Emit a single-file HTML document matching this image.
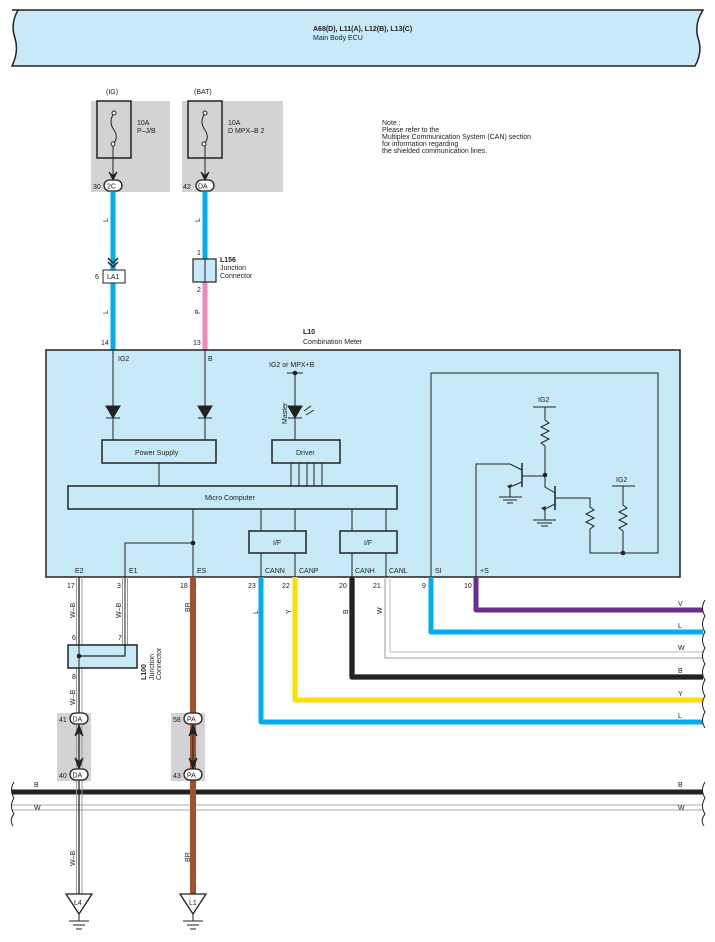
<!DOCTYPE html>
<html><head><meta charset="utf-8"><style>
html,body{margin:0;padding:0;background:#fff}
svg{display:block}
text{font-family:"Liberation Sans",sans-serif;font-size:7px;fill:#222}
.b{font-weight:bold}
</style></head><body>
<svg width="715" height="942" viewBox="0 0 715 942" xmlns="http://www.w3.org/2000/svg">
<defs>
<g id="wb"><line x1="-2" y1="0" x2="-2" y2="1" stroke="#999" stroke-width="0.8"/></g>
</defs>
<!-- header -->
<path d="M12,10 L703,10 Q694,24 698,38 Q703,52 695,66 L12,66 Q19,52 15,38 Q10,24 18,10 Z" fill="#c8e9f8" stroke="#222" stroke-width="1.5"/>
<text x="313" y="31" class="b">A68(D), L11(A), L12(B), L13(C)</text>
<text x="313" y="40">Main Body ECU</text>

<!-- note -->
<text x="382" y="125">Note :</text>
<text x="382" y="132">Please refer to the</text>
<text x="382" y="139">Multiplex Communication System (CAN) section</text>
<text x="382" y="146">for information regarding</text>
<text x="382" y="153">the shielded communication lines.</text>

<!-- fuse boxes -->
<rect x="91" y="101" width="79" height="91" fill="#d3d3d5"/>
<rect x="182" y="101" width="101" height="91" fill="#d3d3d5"/>
<rect x="97" y="101" width="34" height="57" fill="none" stroke="#222" stroke-width="1.5"/>
<rect x="188" y="101" width="34" height="57" fill="none" stroke="#222" stroke-width="1.5"/>
<path d="M114,113 Q108,122 114,130 Q119,138 113,144" fill="none" stroke="#222"/>
<circle cx="114" cy="113" r="2" fill="#fff" stroke="#222"/><circle cx="113" cy="144" r="2" fill="#fff" stroke="#222"/>
<path d="M205,113 Q199,122 205,130 Q210,138 204,144" fill="none" stroke="#222"/>
<circle cx="205" cy="113" r="2" fill="#fff" stroke="#222"/><circle cx="204" cy="144" r="2" fill="#fff" stroke="#222"/>
<line x1="113" y1="146" x2="113" y2="176" stroke="#222"/><line x1="205" y1="146" x2="205" y2="176" stroke="#222"/>
<path d="M109,172 L113,180 L117,172 L113,176Z" fill="#222" stroke="#222"/>
<path d="M201,172 L205,180 L209,172 L205,176Z" fill="#222" stroke="#222"/>
<text x="137" y="125">10A</text><text x="137" y="133">P–J/B</text>
<text x="228" y="125">10A</text><text x="228" y="133">D MPX–B 2</text>
<text x="106" y="94">(IG)</text><text x="194" y="94">(BAT)</text>

<!-- IG wire -->
<line x1="113" y1="192" x2="113" y2="350" stroke="#00aeef" stroke-width="5"/>
<rect x="104" y="180" width="18" height="11" rx="5.5" fill="#fff" stroke="#222" stroke-width="1.3"/>
<text x="107" y="188.5">2C</text><text x="93" y="189">30</text>
<path d="M108,258 L113,263 L118,258 M108,262 L113,267 L118,262" fill="none" stroke="#222" stroke-width="1.5"/>
<rect x="103" y="270" width="22" height="13" fill="#fff" stroke="#222"/>
<text x="107" y="279">LA1</text><text x="95" y="279">6</text>
<text transform="translate(108,222) rotate(-90)">L</text>
<text transform="translate(108,314) rotate(-90)">L</text>
<text x="101" y="345">14</text>

<!-- BAT wire -->
<line x1="205" y1="192" x2="205" y2="260" stroke="#00aeef" stroke-width="5"/>
<line x1="205" y1="282" x2="205" y2="350" stroke="#f088b8" stroke-width="5"/>
<rect x="196" y="180" width="18" height="11" rx="5.5" fill="#fff" stroke="#222" stroke-width="1.3"/>
<text x="198" y="188.5">DA</text><text x="183" y="189">42</text>
<rect x="193" y="259" width="23" height="23" fill="#c8e9f8" stroke="#222" stroke-width="1.2"/>
<line x1="205" y1="259" x2="205" y2="282" stroke="#222"/>
<text x="197" y="255">1</text><text x="197" y="292">2</text>
<text x="220" y="262" class="b">L156</text><text x="220" y="270">Junction</text><text x="220" y="278">Connector</text>
<text transform="translate(200,222) rotate(-90)">L</text>
<text transform="translate(200,314) rotate(-90)">P</text>
<text x="193" y="345">13</text>
<text x="303" y="334" class="b">L10</text><text x="303" y="344">Combination Meter</text>

<!-- main box -->
<rect x="46" y="350" width="634" height="227" fill="#c8e9f8" stroke="#222" stroke-width="1.5"/>
<g stroke="#222" fill="none">
<line x1="113" y1="350" x2="113" y2="440"/><line x1="205" y1="350" x2="205" y2="440"/>
<line x1="295" y1="373" x2="295" y2="440"/>
<line x1="287" y1="373" x2="303" y2="373"/>
<line x1="159" y1="463" x2="159" y2="486"/>
<line x1="291" y1="463" x2="291" y2="486"/><line x1="299" y1="463" x2="299" y2="486"/><line x1="307" y1="463" x2="307" y2="486"/><line x1="314" y1="463" x2="314" y2="486"/><line x1="322" y1="463" x2="322" y2="486"/>
<line x1="193" y1="509" x2="193" y2="577"/>
<polyline points="193,543 125,543 125,577"/>
<line x1="261" y1="509" x2="261" y2="531"/><line x1="295" y1="509" x2="295" y2="531"/>
<line x1="261" y1="553" x2="261" y2="577"/><line x1="295" y1="553" x2="295" y2="577"/>
<line x1="352" y1="509" x2="352" y2="531"/><line x1="386" y1="509" x2="386" y2="531"/>
<line x1="352" y1="553" x2="352" y2="577"/><line x1="386" y1="553" x2="386" y2="577"/>
<polyline points="431,577 431,373 658,373 658,553 590,553 590,530"/>
<polyline points="476,577 476,464 510,464 522,470"/>
<line x1="533" y1="407" x2="556" y2="407"/>
<polyline points="545,407 545,420 549,423 541,427 549,431 541,435 549,439 541,443 545,446 545,487 555,493"/>
<line x1="522" y1="463" x2="522" y2="487" stroke-width="1.5"/>
<line x1="522" y1="476" x2="545" y2="476"/>
<polyline points="522,482 510,487 510,497"/>
<line x1="499" y1="497" x2="522" y2="497"/><line x1="503" y1="500" x2="517" y2="500"/><line x1="507" y1="503" x2="513" y2="503"/>
<line x1="555" y1="486" x2="555" y2="510" stroke-width="1.5"/>
<polyline points="555,498 590,498 590,507 594,510 586,514 594,518 586,522 594,526 590,529 590,530"/>
<polyline points="555,504 545,509 545,520"/>
<line x1="533" y1="520" x2="556" y2="520"/><line x1="537" y1="523" x2="552" y2="523"/><line x1="541" y1="526" x2="548" y2="526"/>
<line x1="612" y1="486" x2="635" y2="486"/>
<polyline points="623,486 623,505 627,508 619,512 627,516 619,520 627,524 619,528 623,531 623,553"/>
</g>
<circle cx="545" cy="475" r="2.3" fill="#222"/><circle cx="623" cy="553" r="2.3" fill="#222"/>
<circle cx="193" cy="543" r="2.3" fill="#222"/><circle cx="295" cy="373" r="2.3" fill="#222"/>
<path d="M507,486 L512,484 L510,489Z" fill="#222"/><path d="M541,508 L546,506 L545,511Z" fill="#222"/>
<text x="538" y="402">IG2</text><text x="616" y="482">IG2</text>
<!-- diodes -->
<g fill="#222" stroke="#222">
<path d="M106,406 L120,406 L113,418Z"/><line x1="106" y1="418" x2="120" y2="418"/>
<path d="M198,406 L212,406 L205,418Z"/><line x1="198" y1="418" x2="212" y2="418"/>
<path d="M288,406 L302,406 L295,418Z"/><line x1="288" y1="418" x2="302" y2="418"/>
<line x1="304" y1="411" x2="311" y2="406"/><line x1="306" y1="415" x2="314" y2="410"/>
</g>
<text transform="translate(287,424) rotate(-90)">Master</text>
<text x="269" y="367">IG2 or MPX+B</text>
<text x="118" y="361">IG2</text><text x="208" y="361">B</text>
<g fill="#c8e9f8" stroke="#222" stroke-width="1.5">
<rect x="102" y="440" width="114" height="23"/><rect x="272" y="440" width="68" height="23"/>
<rect x="68" y="486" width="329" height="23"/>
<rect x="249" y="531" width="57" height="22"/><rect x="340" y="531" width="57" height="22"/>
</g>
<text x="135" y="455">Power Supply</text><text x="296" y="455">Driver</text>
<text x="205" y="500">Micro Computer</text>
<text x="273" y="545">I/F</text><text x="364" y="545">I/F</text>
<text x="75" y="573">E2</text><text x="129" y="573">E1</text><text x="197" y="573">ES</text>
<text x="265" y="573">CANN</text><text x="299" y="573">CANP</text><text x="355" y="573">CANH</text><text x="389" y="573">CANL</text>
<text x="435" y="573">SI</text><text x="480" y="573">+S</text>

<!-- pin numbers -->
<text x="67" y="588">17</text><text x="117" y="588">3</text><text x="180" y="588">18</text><text x="248" y="588">23</text>
<text x="282" y="588">22</text><text x="339" y="588">20</text><text x="373" y="588">21</text><text x="422" y="588">9</text><text x="464" y="588">10</text>

<!-- CAN wires -->
<g fill="none" stroke-linejoin="round">
<polyline points="476,577 476,610 703,610" stroke="#6b2d8f" stroke-width="5"/>
<polyline points="431,577 431,632 703,632" stroke="#00aeef" stroke-width="5"/>
<polyline points="385,577 385,658 703,658" stroke="#999" stroke-width="1"/>
<polyline points="390,577 390,652 703,652" stroke="#bbb" stroke-width="1"/>
<polyline points="352,577 352,677 703,677" stroke="#888" stroke-width="6"/>
<polyline points="352,577 352,677 703,677" stroke="#222" stroke-width="4.5"/>
<polyline points="295,577 295,700 703,700" stroke="#ffdd00" stroke-width="5"/>
<polyline points="261,577 261,722 703,722" stroke="#00aeef" stroke-width="5"/>
</g>
<text x="678" y="606">V</text><text x="678" y="628">L</text><text x="678" y="650">W</text><text x="678" y="673">B</text><text x="678" y="696">Y</text><text x="678" y="718">L</text>
<text transform="translate(258,614) rotate(-90)">L</text><text transform="translate(291,614) rotate(-90)">Y</text>
<text transform="translate(348,614) rotate(-90)">B</text><text transform="translate(382,614) rotate(-90)">W</text>
<path d="M705,600 Q700,608 705,616 Q700,624 705,632 Q700,640 705,648 Q700,656 705,664 Q700,672 705,680 Q700,688 705,696 Q700,704 705,712 Q700,720 705,728" fill="none" stroke="#222"/>

<!-- buses -->
<line x1="12" y1="792" x2="703" y2="792" stroke="#222" stroke-width="5"/>
<line x1="12" y1="805" x2="703" y2="805" stroke="#aaa" stroke-width="1"/>
<line x1="12" y1="810" x2="703" y2="810" stroke="#aaa" stroke-width="1"/>
<path d="M14,782 Q9,790 14,798 Q9,806 14,814 Q9,820 13,826" fill="none" stroke="#222"/>
<path d="M705,782 Q700,790 705,798 Q700,806 705,814 Q700,820 704,826" fill="none" stroke="#222"/>
<text x="34" y="787">B</text><text x="34" y="810">W</text><text x="678" y="787">B</text><text x="678" y="810">W</text>

<!-- connector gray areas bottom -->
<rect x="57" y="713" width="34" height="68" fill="#d3d3d5"/>
<rect x="171" y="713" width="34" height="68" fill="#d3d3d5"/>

<!-- E2 W-B wire -->
<g fill="none">
<line x1="76.5" y1="577" x2="76.5" y2="895" stroke="#999"/>
<line x1="82" y1="577" x2="82" y2="895" stroke="#999"/>
<line x1="79" y1="577" x2="79" y2="895" stroke="#222" stroke-width="1.3"/>
<line x1="122.5" y1="577" x2="122.5" y2="648" stroke="#999"/>
<line x1="127.5" y1="577" x2="127.5" y2="648" stroke="#999"/>
<line x1="125" y1="577" x2="125" y2="648" stroke="#222" stroke-width="1"/>
<line x1="193" y1="577" x2="193" y2="895" stroke="#a0522d" stroke-width="6"/>
</g>
<rect x="68" y="645" width="69" height="23" fill="#c8e9f8" stroke="#222" stroke-width="1.5"/>
<line x1="79" y1="645" x2="79" y2="668" stroke="#222"/>
<polyline points="125,645 125,656 79,656" fill="none" stroke="#222" stroke-width="1.2"/>
<circle cx="79" cy="656" r="2.3" fill="#222"/>
<text x="72" y="640">6</text><text x="118" y="640">7</text><text x="72" y="679">8</text>
<text transform="translate(146,680) rotate(-90)" class="b">L100</text>
<text transform="translate(154,680) rotate(-90)">Junction</text>
<text transform="translate(161,680) rotate(-90)">Connector</text>
<text transform="translate(75,618) rotate(-90)">W–B</text><text transform="translate(121,618) rotate(-90)">W–B</text>
<text transform="translate(75,705) rotate(-90)">W–B</text>
<text transform="translate(75,866) rotate(-90)">W–B</text>
<text transform="translate(190,612) rotate(-90)">BR</text>
<text transform="translate(190,862) rotate(-90)">BR</text>

<!-- DA / PA connectors -->
<g stroke="#222" fill="#222">
<line x1="79" y1="724" x2="79" y2="770"/>
<path d="M75,736 L79,725 L83,736 L79,732Z"/><path d="M75,758 L79,769 L83,758 L79,762Z"/>
<line x1="193" y1="724" x2="193" y2="770"/>
<path d="M189,736 L193,725 L197,736 L193,732Z"/><path d="M189,758 L193,769 L197,758 L193,762Z"/>
</g>
<g fill="#fff" stroke="#222" stroke-width="1.3">
<rect x="70" y="713" width="18" height="11" rx="5.5"/><rect x="70" y="769" width="18" height="11" rx="5.5"/>
<rect x="184" y="713" width="18" height="11" rx="5.5"/><rect x="184" y="769" width="18" height="11" rx="5.5"/>
</g>
<text x="72.5" y="721.5">DA</text><text x="72.5" y="777.5">DA</text><text x="187" y="721.5">PA</text><text x="187" y="777.5">PA</text>
<text x="59" y="722">41</text><text x="59" y="778">40</text><text x="173" y="722">58</text><text x="173" y="778">43</text>

<!-- grounds -->
<g fill="#fff" stroke="#222" stroke-width="1.3">
<path d="M66,894 L92,894 L79,914Z"/><path d="M180,894 L206,894 L193,914Z"/>
</g>
<text x="74" y="905">L4</text><text x="189" y="905">L1</text>
<g stroke="#222">
<line x1="79" y1="914" x2="79" y2="921"/><line x1="69" y1="921" x2="89" y2="921"/><line x1="73" y1="925" x2="85" y2="925"/><line x1="76" y1="929" x2="82" y2="929"/>
<line x1="193" y1="914" x2="193" y2="921"/><line x1="183" y1="921" x2="203" y2="921"/><line x1="187" y1="925" x2="199" y2="925"/><line x1="190" y1="929" x2="196" y2="929"/>
</g>
</svg>
</body></html>
